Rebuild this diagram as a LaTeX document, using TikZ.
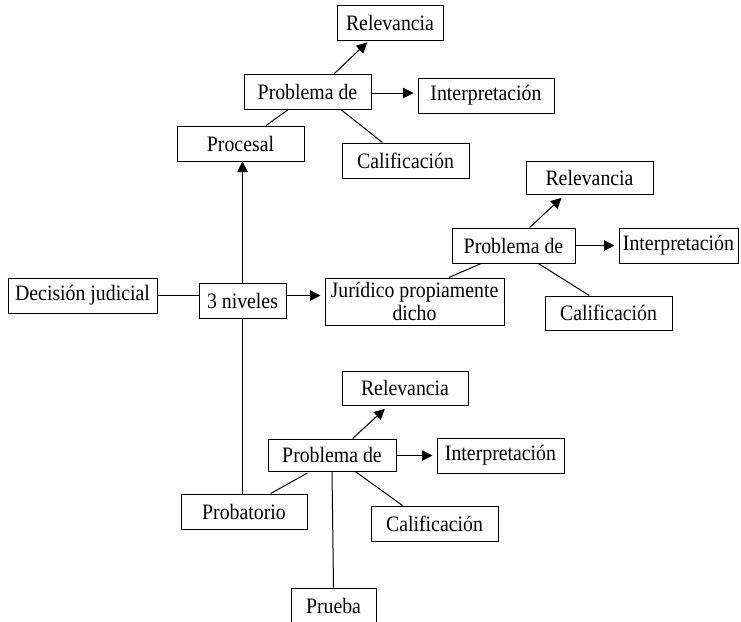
\documentclass[tikz,border=0pt]{standalone}
\usepackage{fontspec}
\setmainfont{Liberation Serif}[FakeStretch=0.9]
\usetikzlibrary{arrows.meta,calc}

\begin{document}
\begin{tikzpicture}[x=1pt,y=-1pt]
\tikzstyle{caja} = [draw, line width=1pt, inner sep=0pt, minimum height=35pt, font=\fontsize{22}{23}\selectfont]
\tikzstyle{flecha} = [-{Triangle[length=10.5pt,width=10.5pt]}, line width=1pt, shorten >=4pt]
\tikzstyle{linea} = [line width=1pt]

\useasboundingbox (0,0) rectangle (741,621);
\clip (0,0) rectangle (741,621);

% nivel procesal
\node[caja, minimum width=106pt] (rel1) at (390,23) {Relevancia};
\node[caja, minimum width=127pt] (prob1) at (307.5,91.5) {Problema de};
\node[caja, minimum width=136pt] (int1) at (486,95.5) {Interpretación};
\node[caja, minimum width=127pt] (proc) at (240.5,143.5) {Procesal};
\node[caja, minimum width=127pt] (cal1) at (405.5,160.5) {Calificación};

% centro
\node[caja, minimum width=149pt] (dec) at (82.5,295.5) {Decisión judicial};
\node[caja, minimum width=87pt] (niv) at (242.5,301) {3 niveles};
\node[caja, minimum width=179pt, minimum height=47pt, align=center] (jur) at (414.5,301.5) {Jurídico propiamente\\dicho};

% nivel juridico
\node[caja, minimum width=127pt, minimum height=33pt] (rel2) at (589.5,177.5) {Relevancia};
\node[caja, minimum width=123pt] (prob2) at (513.5,245.5) {Problema de};
\node[caja, minimum width=119pt] (int2) at (678.5,245.5) {Interpretación};
\node[caja, minimum width=127pt, minimum height=34pt] (cal2) at (608.5,313) {Calificación};

% nivel probatorio
\node[caja, minimum width=126pt, minimum height=34pt] (rel3) at (405,388) {Relevancia};
\node[caja, minimum width=128pt, minimum height=32pt] (prob3) at (332,455) {Problema de};
\node[caja, minimum width=127pt] (int3) at (500.5,455.5) {Interpretación};
\node[caja, minimum width=126pt] (probat) at (244,511.5) {Probatorio};
\node[caja, minimum width=127pt] (cal3) at (434.5,523.5) {Calificación};
\node[caja, minimum width=85pt] (prue) at (333.5,605.5) {Prueba};

\draw[linea] (dec.east) -- (dec.east -| niv.west);
\draw[flecha] (niv.east |- dec.east) -- (jur.west |- dec.east);
\draw[flecha, shorten >=0pt] (niv.north) -- (niv.north |- proc.south);
\draw[linea] (niv.south) -- (niv.south |- probat.north);

\draw[flecha, shorten >=2pt] ($(prob1.north west)!0.71!(prob1.north east)$) -- ($(rel1.south west)!0.3!(rel1.south east)$);
\draw[flecha] (prob1.east |- int1.west) ++(0,-2.5) -- ($(int1.west)+(0,-2.5)$);
\draw[linea] ($(prob1.south west)!0.35!(prob1.south east)$) -- ($(proc.north west)!0.7!(proc.north east)$);
\draw[linea] ($(prob1.south west)!0.76!(prob1.south east)$) -- ($(cal1.north west)!0.32!(cal1.north east)$);

\draw[flecha, shorten >=5pt] ($(prob2.north west)!0.63!(prob2.north east)$) -- ($(rel2.south west)!0.31!(rel2.south east)$);
\draw[flecha] (prob2.east) -- (int2.west);
\draw[linea] ($(prob2.south west)!0.24!(prob2.south east)$) -- ($(jur.north west)!0.69!(jur.north east)$);
\draw[linea] ($(prob2.south west)!0.7!(prob2.south east)$) -- ($(cal2.north west)!0.35!(cal2.north east)$);

\draw[flecha, shorten >=5pt] ($(prob3.north west)!0.66!(prob3.north east)$) -- ($(rel3.south west)!0.37!(rel3.south east)$);
\draw[flecha] (prob3.east |- int3.west) -- (int3.west);
\draw[linea, shorten <=3pt] ($(prob3.south west)!0.33!(prob3.south east)$) -- ($(probat.north west)!0.71!(probat.north east)$);
\draw[linea] ($(prob3.south west)!0.68!(prob3.south east)$) -- ($(cal3.north west)!0.25!(cal3.north east)$);
\draw[linea] (prob3.south) -- (prue.north);

\end{tikzpicture}
\end{document}
